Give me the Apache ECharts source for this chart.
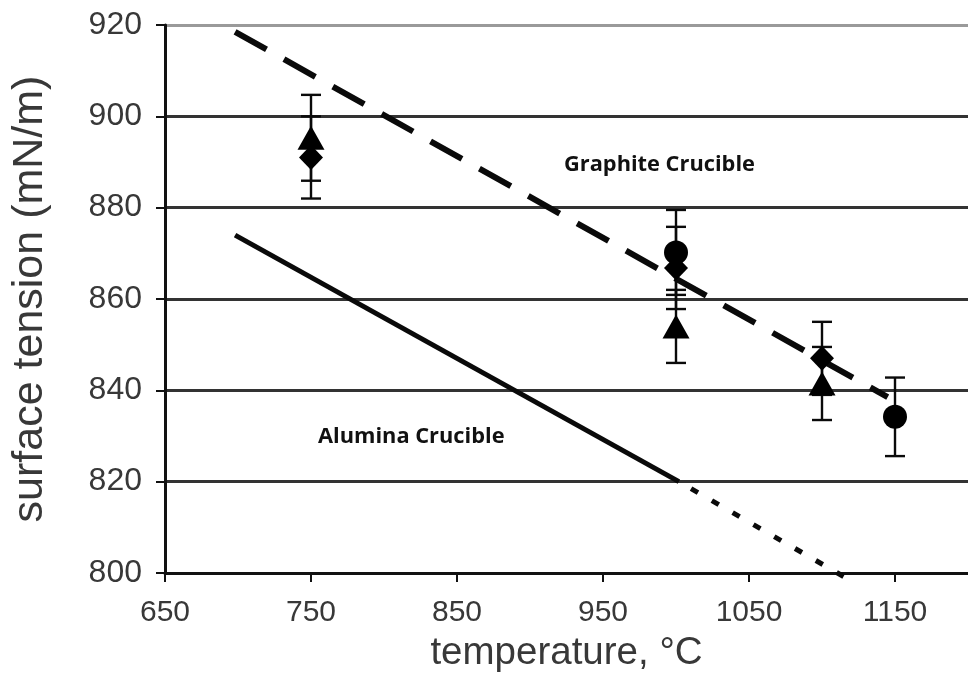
<!DOCTYPE html>
<html>
<head>
<meta charset="utf-8">
<script src="https://cdn.jsdelivr.net/npm/echarts@6/dist/echarts.min.js"></script>
<style>
html,body{margin:0;padding:0;background:#fff;}
#chart{width:968px;height:687px;}
</style>
</head>
<body>
<div id="chart"></div>
<script>
// Fitted lines (temperature, surface tension)
const graphiteLineX = [698, 1145];
const graphiteLineY = [918.5, 838.5];
const aluminaSolidX = [698, 1002];
const aluminaSolidY = [874, 820];
const aluminaDotX = [1002, 1115];
const aluminaDotY = [820, 799.2];

// Measured points with symmetric error
const circleT = [1000, 1150];
const circleV = [870.2, 834.2];
const circleErr = [9.3, 8.6];

const diamondT = [750, 1000, 1100];
const diamondV = [891, 866.8, 847];
const diamondErr = [9, 9, 8];

const triangleT = [750, 1000, 1100];
const triangleV = [895.3, 854, 841.5];
const triangleErr = [9.4, 8, 8];

const xName = 'temperature, °C';
const yName = 'surface tension (mN/m)';
const graphiteLabel = 'Graphite Crucible';
const aluminaLabel = 'Alumina Crucible';

function pairs(xs, ys) { return xs.map((x, i) => [x, ys[i]]); }
function errData(xs, ys, es) { return xs.map((x, i) => [x, ys[i] - es[i], ys[i] + es[i]]); }

const errRender = function (params, api) {
  const x = api.value(0);
  const lo = api.coord([x, api.value(1)]);
  const hi = api.coord([x, api.value(2)]);
  const hw = 10;
  const st = { stroke: '#0a0a0a', lineWidth: 2.4 };
  return {
    type: 'group',
    children: [
      { type: 'line', shape: { x1: lo[0], y1: lo[1], x2: hi[0], y2: hi[1] }, style: st },
      { type: 'line', shape: { x1: lo[0] - hw, y1: lo[1], x2: lo[0] + hw, y2: lo[1] }, style: st },
      { type: 'line', shape: { x1: hi[0] - hw, y1: hi[1], x2: hi[0] + hw, y2: hi[1] }, style: st }
    ]
  };
};

const textColor = '#383838';
const chart = echarts.init(document.getElementById('chart'));
chart.setOption({
  animation: false,
  backgroundColor: '#fff',
  grid: { left: 165, right: -7, top: 25, bottom: 114, containLabel: false },
  xAxis: {
    type: 'value', min: 650, max: 1200, interval: 100,
    name: xName, nameLocation: 'middle', nameGap: 61,
    nameTextStyle: { fontFamily: 'Liberation Sans', fontSize: 38.5, color: textColor },
    axisLine: { show: true, lineStyle: { color: '#111', width: 3 } },
    axisTick: { show: true, inside: false, length: 9, lineStyle: { color: '#111', width: 2 } },
    axisLabel: { showMaxLabel: false, margin: 25, fontFamily: 'Liberation Sans', fontSize: 30, color: textColor,
      formatter: function (v) { return String(v); } },
    splitLine: { show: false }
  },
  yAxis: {
    type: 'value', min: 800, max: 920, interval: 20,
    name: yName, nameLocation: 'middle', nameGap: 113, nameRotate: 90,
    nameTextStyle: { fontFamily: 'Liberation Sans', fontSize: 43, color: textColor },
    axisLine: { show: true, lineStyle: { color: '#111', width: 3 } },
    axisTick: { show: true, inside: false, length: 9, lineStyle: { color: '#111', width: 2 } },
    axisLabel: { margin: 23, fontFamily: 'Liberation Sans', fontSize: 32, color: textColor,
      formatter: function (v) { return String(v); } },
    splitLine: { show: true, lineStyle: { width: 3, color: ['#333', '#333', '#333', '#333', '#333', '#333', '#9a9a9a'] } }
  },
  series: [
    { type: 'line', data: pairs(graphiteLineX, graphiteLineY), showSymbol: false, symbol: 'none', clip: false,
      lineStyle: { color: '#0a0a0a', width: 6, type: [36, 20], cap: 'butt' }, z: 3 },
    { type: 'line', data: pairs(aluminaSolidX, aluminaSolidY), showSymbol: false, symbol: 'none', clip: false,
      lineStyle: { color: '#0a0a0a', width: 5 }, z: 3 },
    { type: 'line', data: pairs(aluminaDotX, aluminaDotY), showSymbol: false, symbol: 'none', clip: false,
      lineStyle: { color: '#0a0a0a', width: 5, type: [8, 16], cap: 'butt', dashOffset: -14 }, z: 3 },
    { type: 'custom', data: errData(circleT, circleV, circleErr), renderItem: errRender, z: 4 },
    { type: 'custom', data: errData(diamondT, diamondV, diamondErr), renderItem: errRender, z: 4 },
    { type: 'custom', data: errData(triangleT, triangleV, triangleErr), renderItem: errRender, z: 4 },
    { type: 'scatter', data: pairs(circleT, circleV), symbol: 'circle', symbolSize: 24,
      itemStyle: { color: '#000', opacity: 1 }, z: 5 },
    { type: 'scatter', data: pairs(diamondT, diamondV), symbol: 'diamond', symbolSize: [24, 25],
      itemStyle: { color: '#000', opacity: 1 }, z: 5 },
    { type: 'scatter', data: pairs(triangleT, triangleV), symbol: 'triangle', symbolSize: [27, 24],
      itemStyle: { color: '#000', opacity: 1 }, z: 5 }
  ],
  graphic: [
    { type: 'text', left: 564, top: 154, z: 10,
      style: { text: graphiteLabel, fontFamily: 'Open Sans', fontWeight: 'bold', fontSize: 21.8, fill: '#111' } },
    { type: 'text', left: 318, top: 426, z: 10,
      style: { text: aluminaLabel, fontFamily: 'Open Sans', fontWeight: 'bold', fontSize: 21.8, fill: '#111' } }
  ]
});
</script>
</body>
</html>
